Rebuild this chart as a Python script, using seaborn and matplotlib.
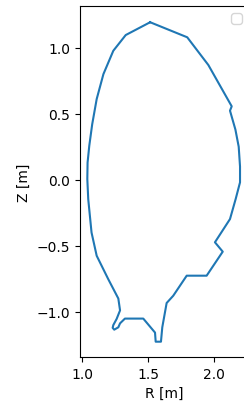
import matplotlib
matplotlib.use("Agg")
import matplotlib.pyplot as plt
import seaborn as sns
import pandas as pd
import warnings

# Contorno (LCFS), sentido horario a partir do topo
R = [1.514, 1.795, 1.955, 2.132, 2.119, 2.160, 2.185, 2.195, 2.195, 2.162,
     2.119, 2.005, 2.064, 1.942, 1.791, 1.689, 1.639, 1.606, 1.596, 1.556,
     1.551, 1.462, 1.323, 1.286, 1.273, 1.242, 1.230, 1.235, 1.260, 1.286,
     1.273, 1.197, 1.109, 1.070, 1.045, 1.038, 1.040, 1.053, 1.075, 1.109,
     1.160, 1.235, 1.329, 1.514]
Z = [1.193, 1.079, 0.869, 0.556, 0.523, 0.380, 0.250, 0.100, -0.020, -0.146,
     -0.298, -0.474, -0.545, -0.727, -0.727, -0.879, -0.934, -1.118, -1.227, -1.227,
     -1.158, -1.052, -1.052, -1.088, -1.118, -1.136, -1.122, -1.101, -1.055, -0.990,
     -0.900, -0.754, -0.576, -0.400, -0.147, 0.005, 0.130, 0.258, 0.420, 0.611,
     0.800, 0.977, 1.096, 1.193]

df = pd.DataFrame({"R": R, "Z": Z})

fig = plt.figure(figsize=(2.44, 4.02), dpi=100)
ax = fig.add_axes([80 / 244, 44 / 402, 169 / 244, 351 / 402])

sns.lineplot(data=df, x="R", y="Z", sort=False, estimator=None, ax=ax,
             color="#1f77b4", linewidth=1.5)

ax.set_xlim(0.9826, 2.263)
ax.set_ylim(-1.343, 1.316)
ax.set_xticks([1.0, 1.5, 2.0])
ax.set_yticks([-1.0, -0.5, 0.0, 0.5, 1.0])
ax.set_xlabel("R [m]")
ax.set_ylabel("Z [m]")
# titulo fica quase todo fora da imagem, como na referencia
ax.set_title("LCFS at t = 0.50 s", pad=5.6)

with warnings.catch_warnings():
    warnings.simplefilter("ignore")
    ax.legend(loc="upper right")

fig.savefig("out.png", dpi=100)
